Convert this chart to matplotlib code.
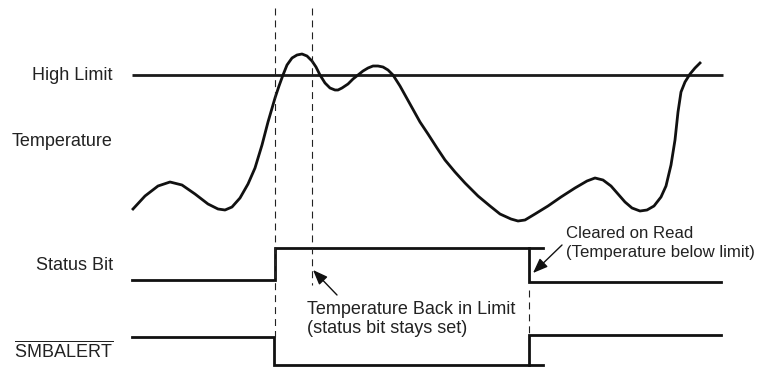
import numpy as np
import matplotlib
matplotlib.use('Agg')
import matplotlib.pyplot as plt

plt.rcParams['font.family'] = ['Liberation Sans', 'DejaVu Sans']
plt.rcParams['mathtext.fontset'] = 'custom'
plt.rcParams['mathtext.rm'] = 'Liberation Sans'
plt.rcParams['lines.scale_dashes'] = False

# temperature trace (pixel units, y grows downward)
temp_x = [133, 145, 158, 170, 182, 195, 208, 218, 225, 232, 240, 248, 255, 262, 268, 275,
          279, 283, 287, 292, 297, 302, 307, 312, 316, 320, 325, 330, 335, 338, 342, 348,
          353, 358, 363, 368, 373, 378, 383, 388, 393, 400, 410, 420, 428, 437, 445, 455,
          465, 478, 490, 500, 511, 518, 525, 535, 548, 561, 575, 587, 595, 603, 611, 618,
          625, 632, 640, 647, 654, 661, 666, 671, 675, 678, 681, 685, 690, 695, 700]
temp_y = [209, 196, 186, 182, 185, 194, 204, 209, 210, 207, 198, 184, 168, 145, 122, 98,
          86, 75, 65, 58, 55, 54, 56, 61, 67, 75, 83, 88, 90, 90, 88, 84,
          79, 75, 71, 68, 66, 66, 67, 70, 75, 86, 104, 122, 134, 148, 160, 172,
          183, 196, 206, 214, 219, 221, 220, 214, 206, 197, 188, 181, 178, 180, 186, 194,
          202, 208, 211, 210, 206, 197, 186, 165, 140, 112, 92, 82, 74, 68, 63]

limit_x = [132, 723]
limit_y = [75, 75]

# status bit waveform
status_x = [132, 275, 275, 543, 529, 529, 721]
status_y = [280, 280, 248, 248, 248, 282, 282]

# SMBALERT waveform (active low)
alert_x = [132, 274, 274, 543, 529, 529, 721]
alert_y = [337, 337, 365, 365, 365, 335, 335]

# dashed time markers: x, y_top, y_bottom
marker_x = [275, 312, 529]
marker_top = [8, 8, 290]
marker_bot = [337, 285, 334]

fig = plt.figure(figsize=(7.57, 3.67), dpi=100)
ax = fig.add_axes([0, 0, 1, 1])
ax.set_xlim(0, 757)
ax.set_ylim(367, 0)
ax.axis('off')

lw = 2.0
ax.plot(limit_x, limit_y, color='#1a1a1a', lw=lw, solid_capstyle='butt')
ax.plot(temp_x, temp_y, color='#111111', lw=lw, solid_joinstyle='round')
ax.plot(status_x[:4], status_y[:4], color='#111111', lw=lw, solid_joinstyle='miter')
ax.plot(status_x[4:], status_y[4:], color='#111111', lw=lw, solid_joinstyle='miter')
ax.plot(alert_x[:4], alert_y[:4], color='#111111', lw=lw, solid_joinstyle='miter')
ax.plot(alert_x[4:], alert_y[4:], color='#111111', lw=lw, solid_joinstyle='miter')

for x, t, b in zip(marker_x, marker_top, marker_bot):
    ax.plot([x, x], [t, b], color='#222222', lw=0.8, linestyle=(0, (5, 3.6)))

fs = 13
ax.text(113, 75, 'High Limit', ha='right', va='center', fontsize=fs, color='#222222')
ax.text(113, 141, 'Temperature', ha='right', va='center', fontsize=fs, color='#222222')
ax.text(113, 265, 'Status Bit', ha='right', va='center', fontsize=fs, color='#222222')
ax.text(113, 351, r'$\overline{\mathrm{SMBALERT}}$', ha='right', va='center', fontsize=fs,
        color='#222222')

ax.text(307, 319, 'Temperature Back in Limit\n(status bit stays set)', ha='left',
        va='center', fontsize=fs, color='#222222', linespacing=1.1)
ax.text(566, 243, 'Cleared on Read\n(Temperature below limit)', ha='left',
        va='center', fontsize=12.1, color='#222222', linespacing=1.3)

arrow = dict(arrowstyle='-|>,head_length=0.9,head_width=0.35', color='#111111', lw=1.0,
             shrinkA=0, shrinkB=0)
ax.annotate('', xy=(313, 270), xytext=(337, 295), arrowprops=arrow)
ax.annotate('', xy=(533, 273), xytext=(562, 245), arrowprops=arrow)

fig.savefig('out.png', dpi=100)
